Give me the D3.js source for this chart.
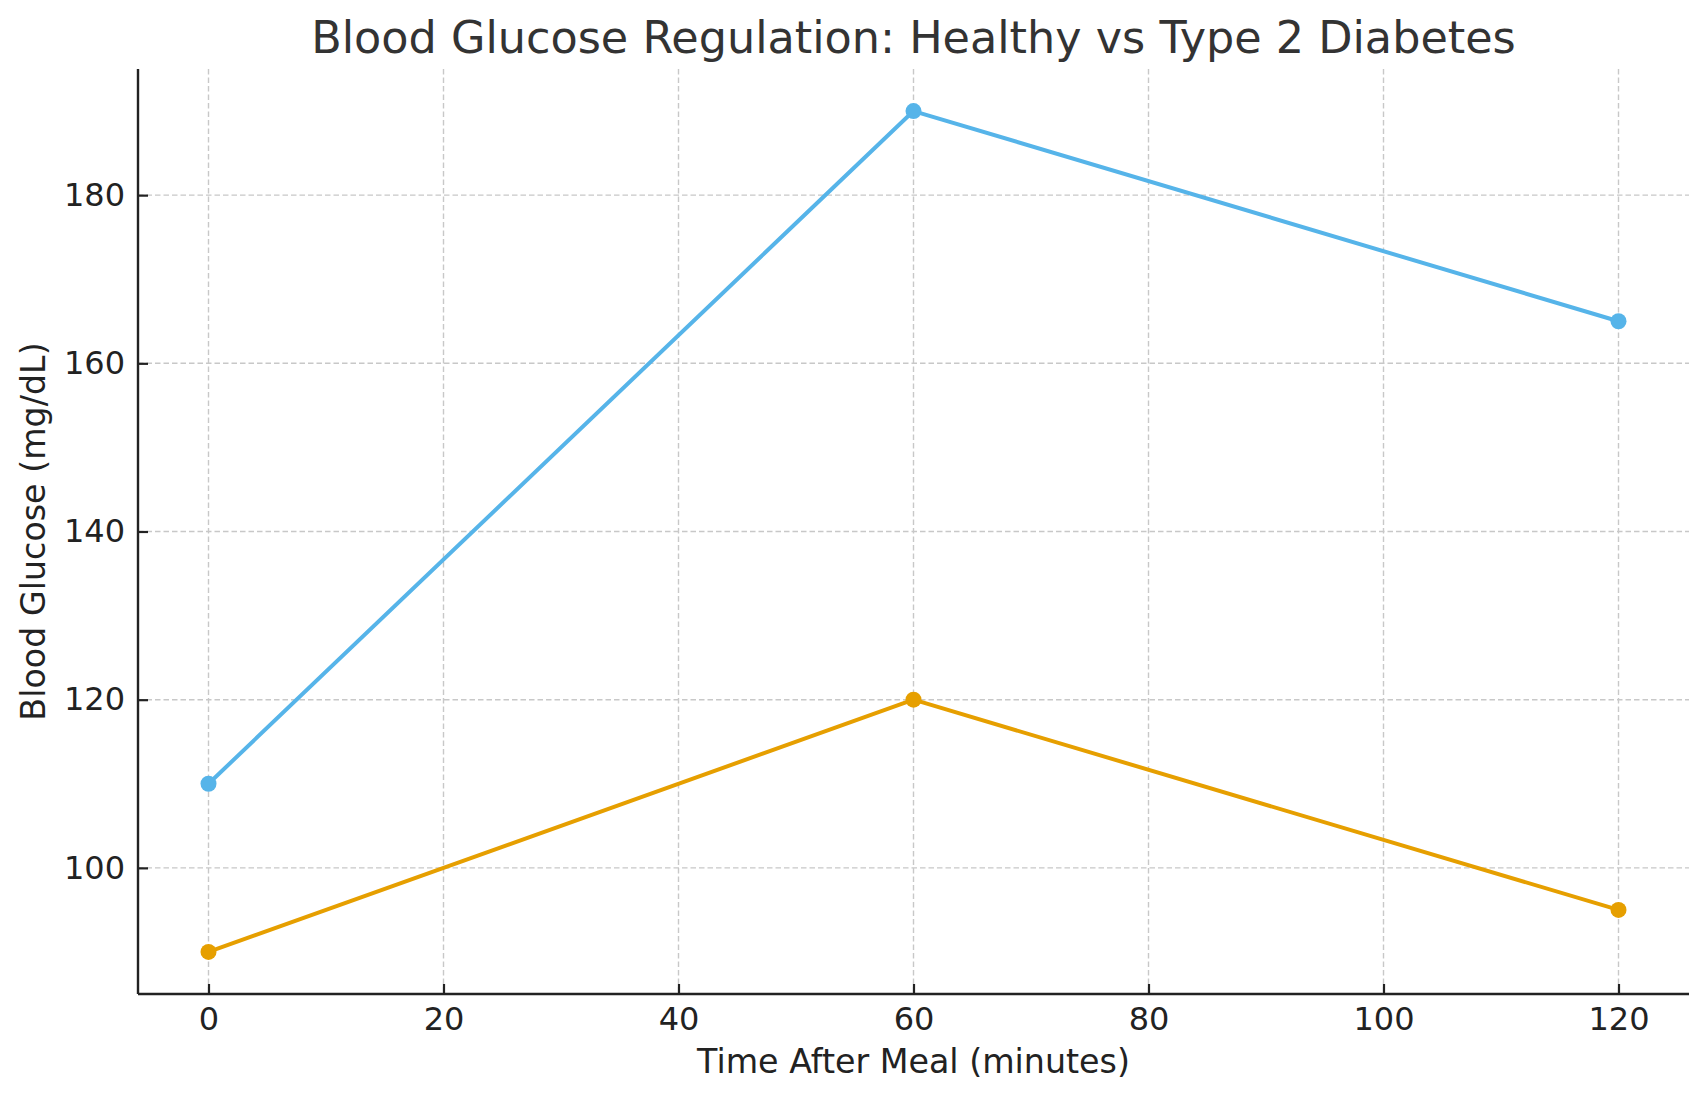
<!DOCTYPE html>
<html>
<head>
<meta charset="utf-8">
<script src="https://cdn.jsdelivr.net/npm/d3@7"></script>
<style>
  body { margin: 0; background: #fff; }
  svg { display: block; font-family: "DejaVu Sans", sans-serif; }
</style>
</head>
<body>
<svg id="chart" width="1707" height="1101"></svg>
<script>
// data
const minutes = [0, 60, 120];
const diabetes = [110, 190, 165];
const healthy = [90, 120, 95];
const xTicks = [0, 20, 40, 60, 80, 100, 120];
const yTicks = [100, 120, 140, 160, 180];

const series = [
  { name: "Type 2 Diabetes", values: diabetes, color: "#56B4E9" },
  { name: "Healthy", values: healthy, color: "#E69F00" }
];

const W = 1707, H = 1101;
const margin = { top: 69, right: 18, bottom: 107, left: 138 };
const iw = W - margin.left - margin.right;
const ih = H - margin.top - margin.bottom;

const svg = d3.select("#chart");
const g = svg.append("g").attr("transform", `translate(${margin.left},${margin.top})`);

// x scale
const x = d3.scaleLinear().domain([-6, 126]).range([0, iw]);
// y scale
const y = d3.scaleLinear().domain([85, 195]).range([ih, 0]);

// grid
g.append("g")
  .selectAll("line")
  .data(xTicks)
  .join("line")
  .attr("x1", d => x(d)).attr("x2", d => x(d))
  .attr("y1", 0).attr("y2", ih)
  .attr("stroke", "#c8c8c8").attr("stroke-width", 1.4)
  .attr("stroke-dasharray", "5.5,3");

g.append("g")
  .selectAll("line")
  .data(yTicks)
  .join("line")
  .attr("x1", 0).attr("x2", iw)
  .attr("y1", d => y(d)).attr("y2", d => y(d))
  .attr("stroke", "#c8c8c8").attr("stroke-width", 1.4)
  .attr("stroke-dasharray", "5.5,3");

//xAxis
const xAxis = d3.axisBottom(x).tickValues(xTicks).tickSizeInner(-10).tickSizeOuter(0).tickPadding(13);
const gx = g.append("g").attr("transform", `translate(0,${ih})`).call(xAxis);

//yAxis
const yAxis = d3.axisLeft(y).tickValues(yTicks).tickSizeInner(-10).tickSizeOuter(0).tickPadding(13);
const gy = g.append("g").call(yAxis);

[gx, gy].forEach(a => {
  a.select(".domain").remove();
  a.selectAll(".tick line").attr("stroke", "#222").attr("stroke-width", 2.2);
  a.selectAll(".tick text")
    .attr("fill", "#222")
    .style("font-size", "32px")
    .style("font-family", "DejaVu Sans, sans-serif");
});

// spines (left and bottom only)
g.append("line").attr("x1", 0).attr("x2", 0).attr("y1", 0).attr("y2", ih)
  .attr("stroke", "#222").attr("stroke-width", 2.4);
g.append("line").attr("x1", 0).attr("x2", iw).attr("y1", ih).attr("y2", ih)
  .attr("stroke", "#222").attr("stroke-width", 2.4);

// lines and markers
const line = d3.line().x((d, i) => x(minutes[i])).y(d => y(d));

series.forEach(s => {
  g.append("path")
    .datum(s.values)
    .attr("d", line)
    .attr("fill", "none")
    .attr("stroke", s.color)
    .attr("stroke-width", 4)
    .attr("stroke-linejoin", "round");

  g.selectAll(null)
    .data(s.values)
    .join("circle")
    .attr("cx", (d, i) => x(minutes[i]))
    .attr("cy", d => y(d))
    .attr("r", 8)
    .attr("fill", s.color);
});

// title
svg.append("text")
  .attr("x", margin.left + iw / 2)
  .attr("y", 53)
  .attr("text-anchor", "middle")
  .attr("fill", "#333")
  .style("font-size", "44.5px")
  .text("Blood Glucose Regulation: Healthy vs Type 2 Diabetes");

// axis labels
svg.append("text")
  .attr("x", margin.left + iw / 2)
  .attr("y", 1073)
  .attr("text-anchor", "middle")
  .attr("fill", "#222")
  .style("font-size", "33.3px")
  .text("Time After Meal (minutes)");

svg.append("text")
  .attr("transform", `translate(45,${margin.top + ih / 2}) rotate(-90)`)
  .attr("text-anchor", "middle")
  .attr("fill", "#222")
  .style("font-size", "33.3px")
  .text("Blood Glucose (mg/dL)");
</script>
</body>
</html>
